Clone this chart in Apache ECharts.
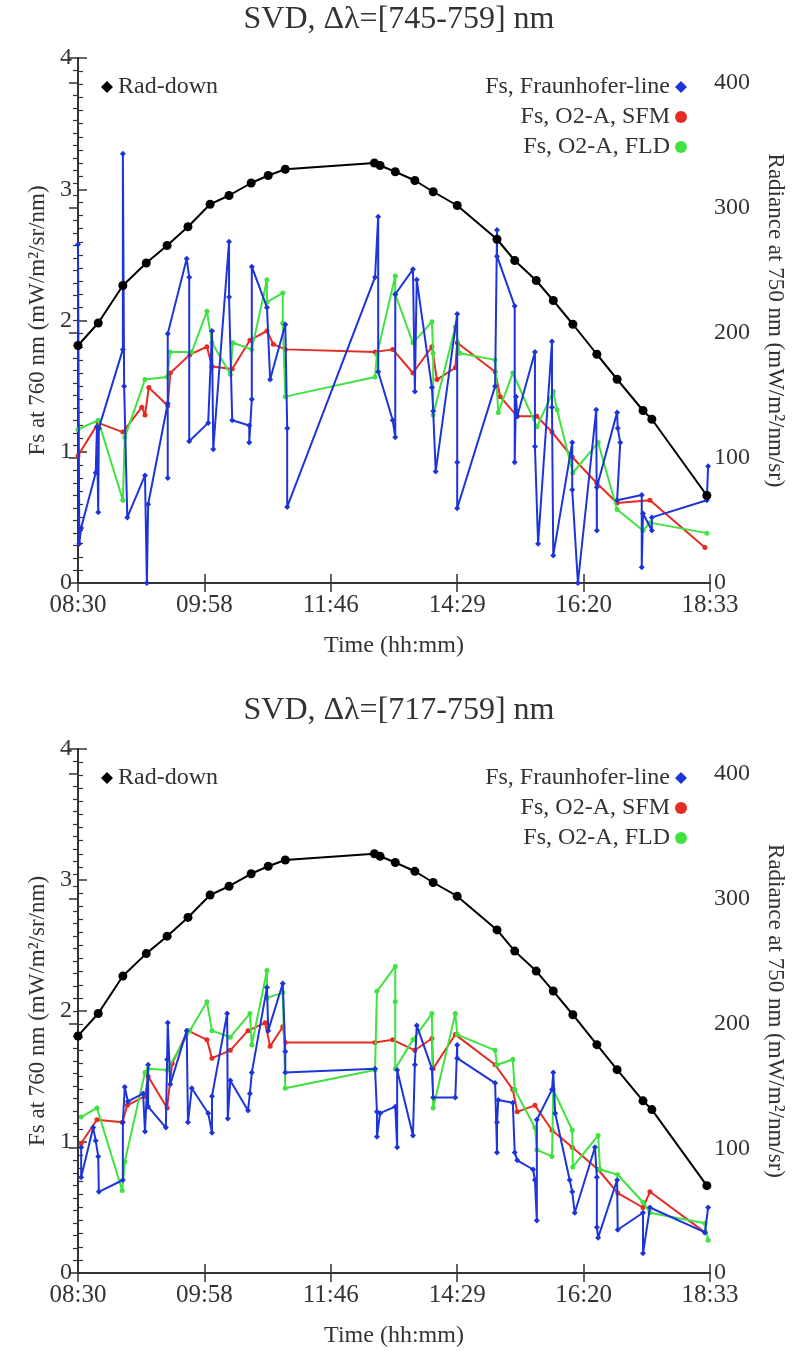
<!DOCTYPE html>
<html>
<head>
<meta charset="utf-8">
<script src="https://cdn.jsdelivr.net/npm/echarts/dist/echarts.min.js"></script>
<style>
html,body{margin:0;padding:0;background:#fff;}
#chart{width:804px;height:1351px;}
</style>
</head>
<body>
<div id="chart"></div>
<script>
// ---------- DATA ----------
const xTickLabels = ['08:30','09:58','11:46','14:29','16:20','18:33'];
const titles = ['SVD, \u0394\u03bb=[745-759] nm', 'SVD, \u0394\u03bb=[717-759] nm'];
const seriesNames = ['Rad-down','Fs, Fraunhofer-line','Fs, O2-A, SFM','Fs, O2-A, FLD'];

// Rad-down radiance (right axis), same for both panels: [sample position, value]
const radDown = [[0,190],[3.2,208],[7.1,238],[10.8,256],[14.1,270],[17.4,285],[20.9,303],[23.9,310],[27.4,320],[30.1,326],[32.8,331],[46.9,336],[47.8,334],[50.2,329],[53.3,322],[56.2,313],[60.0,302],[66.3,275],[69.1,258],[72.5,242],[75.2,226],[78.3,207],[82.1,183],[85.3,163],[89.4,138],[90.8,131],[99.5,70]];

// Top panel, window 745-759 nm
const topFraunhofer = [[0,2.58],[0.2,0.3],[0.5,0.42],[2.8,0.84],[3.0,1.19],[3.2,0.54],[3.3,1.18],[7.1,1.78],[7.1,3.27],[7.3,1.5],[7.8,0.5],[10.6,0.82],[10.9,0.0],[11.1,0.6],[14.2,1.37],[14.2,0.8],[14.2,1.9],[17.2,2.47],[17.6,2.33],[17.6,1.08],[20.6,1.22],[21.2,1.92],[21.4,1.02],[23.9,2.6],[23.9,2.18],[24.4,1.24],[27.1,1.2],[27.1,1.07],[27.5,1.4],[27.5,2.41],[29.9,2.1],[30.4,1.55],[32.8,1.97],[33.1,1.18],[33.1,0.58],[47.0,2.33],[47.5,2.79],[47.5,1.61],[49.8,1.24],[50.2,1.11],[50.2,2.2],[53.0,2.39],[53.3,1.46],[53.6,2.31],[56.0,1.49],[56.2,1.31],[56.6,0.85],[60.0,2.05],[60.0,0.92],[60.0,0.57],[66.0,1.5],[66.3,2.69],[66.3,2.49],[69.1,2.11],[69.1,0.92],[69.3,1.42],[69.5,1.27],[72.3,1.76],[72.3,1.04],[72.8,0.3],[75.0,1.84],[75.0,1.34],[75.2,0.21],[78.2,1.07],[78.2,0.71],[79.1,0.0],[82.0,1.32],[82.1,0.4],[82.1,0.73],[85.3,1.3],[85.4,1.18],[85.8,1.07],[85.3,0.63],[89.2,0.67],[89.2,0.12],[89.4,0.53],[90.8,0.4],[90.8,0.5],[99.5,0.63],[99.7,0.89]];
const topSFM = [[0,0.97],[3.2,1.22],[7.1,1.15],[10.1,1.34],[10.6,1.28],[11.2,1.49],[14.2,1.35],[14.6,1.6],[17.7,1.74],[20.4,1.8],[21.2,1.65],[24.4,1.63],[27.2,1.85],[29.9,1.92],[30.9,1.82],[32.8,1.78],[47.0,1.76],[49.8,1.78],[53.0,1.6],[56.0,1.8],[56.8,1.55],[59.7,1.64],[60.0,1.83],[66.0,1.61],[66.8,1.42],[69.5,1.27],[72.6,1.27],[75.0,1.15],[78.2,0.96],[82.1,0.76],[85.3,0.61],[90.5,0.63],[99.2,0.27]];
const topFLD = [[0,1.17],[3.2,1.24],[7.1,0.63],[7.4,1.11],[10.6,1.55],[14.1,1.57],[14.6,1.76],[18.0,1.76],[20.4,2.07],[21.2,1.83],[24.1,1.59],[24.5,1.83],[27.5,1.78],[29.9,2.31],[29.9,2.14],[32.4,2.21],[32.4,1.98],[32.8,1.42],[47.0,1.57],[47.3,1.74],[50.2,2.34],[50.2,2.2],[53.0,1.83],[56.0,1.99],[56.2,1.75],[56.2,1.28],[59.7,1.95],[60.4,1.75],[66.0,1.7],[66.5,1.3],[68.8,1.6],[72.6,1.19],[75.2,1.46],[75.8,1.32],[78.3,0.84],[82.3,1.07],[85.3,0.56],[89.4,0.4],[90.5,0.46],[99.5,0.38]];

// Bottom panel, window 717-759 nm
const botFraunhofer = [[0.5,0.96],[0.5,0.73],[2.4,1.11],[2.8,1.01],[3.2,0.89],[3.3,0.62],[7.1,0.71],[7.1,1.15],[7.4,1.42],[7.9,1.31],[10.3,1.37],[10.6,1.08],[11.1,1.59],[11.1,1.27],[13.9,1.11],[14.1,1.63],[14.2,1.91],[14.6,1.44],[17.2,1.85],[17.4,1.15],[18.0,1.41],[20.6,1.22],[21.2,1.07],[21.2,1.35],[23.6,1.98],[23.7,1.18],[24.1,1.47],[26.9,1.24],[27.2,1.37],[27.5,1.53],[29.9,2.18],[30.1,1.85],[32.4,2.21],[32.8,1.69],[32.8,1.53],[47.0,1.56],[47.3,1.23],[47.3,1.04],[47.8,1.22],[50.2,1.27],[50.5,0.96],[50.5,1.55],[53.0,1.05],[53.3,1.59],[53.6,1.89],[56.0,1.56],[56.2,1.34],[59.7,1.34],[60.0,1.74],[60.0,1.64],[66.0,1.45],[66.3,0.92],[66.3,1.15],[66.5,1.32],[68.8,1.3],[69.1,0.92],[69.5,0.86],[72.0,0.79],[72.3,0.71],[72.6,0.4],[72.6,1.17],[75.0,1.4],[75.2,1.53],[75.5,1.22],[77.8,0.71],[78.2,0.62],[78.6,0.46],[81.8,0.96],[82.1,0.73],[82.1,0.35],[82.3,0.27],[85.3,0.71],[85.4,0.33],[89.4,0.46],[89.4,0.15],[90.5,0.5],[99.2,0.31],[99.7,0.5]];
const botSFM = [[0.5,0.99],[3.0,1.17],[7.0,1.15],[7.8,1.28],[10.6,1.35],[11.1,1.5],[14.1,1.26],[14.9,1.6],[17.4,1.85],[20.4,1.78],[21.2,1.64],[24.1,1.7],[26.9,1.85],[29.6,1.91],[30.4,1.73],[32.4,1.88],[32.8,1.76],[47.0,1.76],[49.8,1.78],[53.3,1.7],[56.0,1.79],[56.2,1.56],[59.7,1.82],[60.0,1.82],[66.0,1.59],[68.8,1.4],[69.5,1.23],[72.3,1.28],[75.0,1.09],[78.2,0.96],[82.3,0.79],[85.4,0.61],[89.4,0.5],[90.5,0.62],[99.2,0.31]];
const botFLD = [[0.5,1.19],[3.0,1.26],[7.0,0.63],[7.4,0.85],[10.6,1.53],[11.1,1.56],[14.1,1.55],[17.7,1.85],[20.4,2.07],[21.2,1.85],[24.1,1.8],[27.2,1.98],[27.5,1.74],[29.9,2.31],[29.9,2.1],[32.4,2.14],[32.8,1.41],[47.0,1.55],[47.3,2.15],[50.2,2.34],[50.2,2.07],[50.2,1.56],[53.0,1.78],[56.0,1.98],[56.2,1.26],[59.7,1.98],[60.0,1.82],[66.0,1.7],[66.3,1.59],[68.8,1.63],[69.1,1.4],[72.3,1.11],[72.6,0.94],[75.0,0.89],[75.2,1.4],[78.2,1.09],[78.3,0.81],[82.3,1.05],[82.6,0.79],[85.4,0.75],[89.4,0.54],[90.5,0.46],[99.2,0.38],[99.7,0.25]];

// ---------- CHART ----------
const FONT = 'Liberation Serif';
const INK = '#333';
const COLORS = {black:'#000000', blue:'#1d35d8', red:'#e52b22', green:'#3fe23f'};
const panelTops = [58, 749];
const panelHeights = [525, 524];

const grids = [], xAxes = [], yAxes = [], series = [], legends = [], titleArr = [];

function axisCommon(){
  return {
    axisLine:{show:true, lineStyle:{color:INK, width:2}},
    axisTick:{show:true, inside:true, length:9, lineStyle:{color:INK, width:1.5}},
    splitLine:{show:false},
    axisLabel:{color:INK, fontFamily:FONT, fontSize:24}
  };
}

const panels = [
  {fraun: topFraunhofer, sfm: topSFM, fld: topFLD},
  {fraun: botFraunhofer, sfm: botSFM, fld: botFLD}
];

panels.forEach((p, i) => {
  const top = panelTops[i];
  grids.push({left:78, width:632, top:top, height:panelHeights[i], containLabel:false});
  titleArr.push({
    text: titles[i], left: 394, top: top - 59, textAlign:'center',
    textStyle:{fontFamily:FONT, fontSize:32, fontWeight:'normal', color:INK}
  });
  // bottom x axis
  xAxes.push(Object.assign(axisCommon(), {
    gridIndex:i, type:'value', position:'bottom', min:0, max:100, interval:20,
    name:'Time (hh:mm)', nameLocation:'middle', nameGap:51,
    nameTextStyle:{fontFamily:FONT, fontSize:24, color:INK},
    axisLabel:{color:INK, fontFamily:FONT, fontSize:25, margin:10,
      formatter: v => xTickLabels[Math.round(v/20)]}
  }));
  // top frame x axis
  xAxes.push(Object.assign(axisCommon(), {
    gridIndex:i, type:'value', position:'top', min:0, max:100, interval:20,
    axisLabel:{show:false}
  }));
  // left y axis
  yAxes.push(Object.assign(axisCommon(), {
    gridIndex:i, type:'value', position:'left', min:0, max:4, interval:1,
    minorTick:{show:true, splitNumber:10, length:5, lineStyle:{color:INK, width:1.2}},
    name:'Fs at 760 nm (mW/m\u00b2/sr/nm)', nameLocation:'middle', nameGap:27, nameRotate:90,
    nameTextStyle:{fontFamily:FONT, fontSize:23, color:INK},
    axisLabel:{color:INK, fontFamily:FONT, fontSize:24, margin:6}
  }));
  // right y axis
  yAxes.push(Object.assign(axisCommon(), {
    gridIndex:i, type:'value', position:'right', min:0, max:420, interval:100,
    minorTick:{show:true, splitNumber:10, length:5, lineStyle:{color:INK, width:1.2}},
    name:'Radiance at 750 nm (mW/m\u00b2/nm/sr)', nameLocation:'middle', nameGap:54, nameRotate:-90,
    nameTextStyle:{fontFamily:FONT, fontSize:23, color:INK},
    axisLabel:{color:INK, fontFamily:FONT, fontSize:24, margin:4, showMaxLabel:false,
      formatter: v => (v % 100 === 0 ? String(v) : '')}
  }));

  const xi = i*2, yl = i*2, yr = i*2 + 1;
  series.push({
    name: seriesNames[2], type:'line', xAxisIndex:xi, yAxisIndex:yl, data:p.sfm,
    symbol:'circle', symbolSize:5, z:3,
    lineStyle:{color:COLORS.red, width:2}, itemStyle:{color:COLORS.red}
  });
  series.push({
    name: seriesNames[3], type:'line', xAxisIndex:xi, yAxisIndex:yl, data:p.fld,
    symbol:'circle', symbolSize:5, z:4,
    lineStyle:{color:COLORS.green, width:2}, itemStyle:{color:COLORS.green}
  });
  series.push({
    name: seriesNames[1], type:'line', xAxisIndex:xi, yAxisIndex:yl, data:p.fraun,
    symbol:'diamond', symbolSize:6, z:5,
    lineStyle:{color:COLORS.blue, width:2}, itemStyle:{color:COLORS.blue}
  });
  series.push({
    name: seriesNames[0], type:'line', xAxisIndex:xi, yAxisIndex:yr, data:radDown,
    symbol:'circle', symbolSize:9, z:6,
    lineStyle:{color:COLORS.black, width:2}, itemStyle:{color:COLORS.black}
  });

  legends.push({
    selectedMode:false, left:96, top: top + 12, itemWidth:12, itemHeight:12,
    data:[{name:seriesNames[0], icon:'diamond', itemStyle:{color:'#000'}}],
    textStyle:{fontFamily:FONT, fontSize:24, color:INK}
  });
  legends.push({
    selectedMode:false, right: 804-692, top: top + 12, orient:'vertical', align:'right',
    itemWidth:12, itemHeight:12, itemGap:6,
    data:[
      {name:seriesNames[1], icon:'diamond', itemStyle:{color:COLORS.blue}},
      {name:seriesNames[2], icon:'circle', itemStyle:{color:COLORS.red}},
      {name:seriesNames[3], icon:'circle', itemStyle:{color:COLORS.green}}
    ],
    textStyle:{fontFamily:FONT, fontSize:24, color:INK}
  });
});

const chart = echarts.init(document.getElementById('chart'), null, {renderer:'canvas'});
chart.setOption({
  backgroundColor:'#fff',
  animation:false,
  title:titleArr,
  grid:grids,
  xAxis:xAxes,
  yAxis:yAxes,
  legend:legends,
  series:series
});
</script>
</body>
</html>
